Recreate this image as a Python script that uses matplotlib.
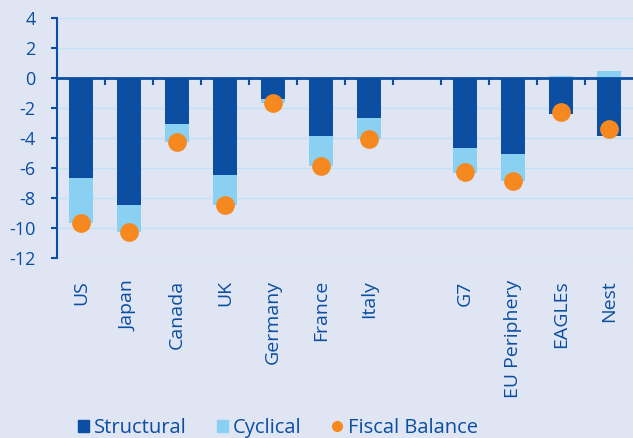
import matplotlib.pyplot as plt
import numpy as np
from matplotlib.lines import Line2D
from matplotlib.patches import Patch

plt.rcParams['font.family'] = ['Open Sans', 'DejaVu Sans']
plt.rcParams['axes.unicode_minus'] = False

# "" is the empty slot between Italy and G7
categories = ["US", "Japan", "Canada", "UK", "Germany", "France", "Italy", "",
              "G7", "EU Periphery", "EAGLEs", "Nest"]
structural = [-6.7, -8.5, -3.05, -6.45, -1.4, -3.85, -2.7, np.nan,
              -4.7, -5.1, -2.38, -3.9]
cyclical = [-2.95, -1.8, -1.2, -2.0, -0.3, -2.0, -1.4, np.nan,
            -1.65, -1.8, 0.13, 0.47]
fiscal_balance = [-9.65, -10.3, -4.25, -8.45, -1.65, -5.85, -4.05, np.nan,
                  -6.3, -6.9, -2.25, -3.42]

dark = "#0b4ea2"
light = "#89d0f2"
orange = "#f5891f"
bg = "#dfe5f2"
grid = "#c3e2f7"

fig = plt.figure(figsize=(6.33, 4.38), dpi=100, facecolor=bg)
ax = fig.add_axes([0.09, 0.411, 0.91, 0.548], facecolor=bg)

x = np.arange(len(categories))
structural = np.array(structural)
cyclical = np.array(cyclical)

ax.bar(x, structural, width=0.5, color=dark, zorder=2)
# cyclical stacked on the structural part (positive ones go up from zero)
cyc_bottom = np.where(cyclical < 0, structural, 0)
ax.bar(x, cyclical, bottom=cyc_bottom, width=0.5, color=light, zorder=2)
ax.plot(x, fiscal_balance, "o", color=orange, markersize=13.5,
        markeredgewidth=0, zorder=5)

# zero line with short ticks between the bars
ax.axhline(0, color=dark, linewidth=2, zorder=4)
ax.vlines(x[:-1] + 0.5, -0.45, 0, color=dark, linewidth=1.5, zorder=4)

ax.set_ylim(-12, 4)
ax.set_xlim(-0.5, len(categories) - 0.5)
ax.set_yticks(np.arange(-12, 5, 2))
ax.yaxis.grid(True, color=grid, linewidth=1, zorder=0)
ax.set_axisbelow(True)

for s in ["top", "right", "bottom"]:
    ax.spines[s].set_visible(False)
ax.spines["left"].set_color(dark)
ax.spines["left"].set_linewidth(1.5)
ax.tick_params(axis="y", colors=dark, labelsize=13, length=4.3, width=1.5,
               pad=11)

ax.set_xticks(x)
ax.set_xticklabels(categories, rotation=90, va="top")
ax.tick_params(axis="x", colors=dark, labelsize=14, length=0, pad=16)

handles = [
    Patch(color=dark, label="Structural"),
    Patch(color=light, label="Cyclical"),
    Line2D([], [], marker="o", linestyle="", color=orange, markersize=7,
           label="Fiscal Balance"),
]
leg = fig.legend(handles=handles, loc="center left", bbox_to_anchor=(0.094, 0.023),
                 ncol=3, frameon=False, fontsize=14.5, handlelength=0.55,
                 handleheight=0.55, handletextpad=0.25, columnspacing=1.5)
for t in leg.get_texts():
    t.set_color(dark)

fig.savefig("out.png", dpi=100, facecolor=bg)
